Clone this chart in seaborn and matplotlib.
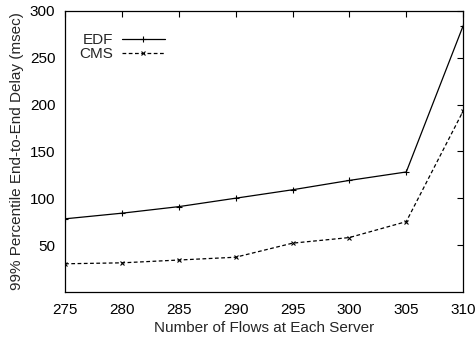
import matplotlib
matplotlib.use("Agg")
import matplotlib.pyplot as plt
import seaborn as sns

flows = [275, 280, 285, 290, 295, 300, 305, 310]
edf_delay = [78, 84, 91, 100, 109, 119, 128, 284]
cms_delay = [30, 31, 34, 37, 52, 58, 75, 193]

sns.set_style("white")
plt.rcParams["font.family"] = ["Liberation Sans", "DejaVu Sans"]

fig = plt.figure(figsize=(4.75, 3.39), dpi=100)
ax = fig.add_axes([0.137, 0.139, 0.838, 0.829])

sns.lineplot(x=flows, y=edf_delay, color="black", linestyle="-", marker="+",
             markersize=4, markeredgewidth=0.8, markeredgecolor="black",
             linewidth=0.9, label="EDF", ax=ax)
sns.lineplot(x=flows, y=cms_delay, color="black", linestyle=(0, (3, 2)), marker="x",
             markersize=3.5, markeredgewidth=0.8, markeredgecolor="black",
             linewidth=0.9, label="CMS", ax=ax)

ax.set_xlim(275, 310)
ax.set_ylim(0, 300)
ax.set_xticks(flows)
ax.set_yticks([50, 100, 150, 200, 250, 300])
ax.tick_params(direction="in", length=4, width=0.8, top=True, right=True,
               labelsize=11, colors="black")
ax.tick_params(axis="x", pad=8)
ax.tick_params(axis="y", pad=7)
for s in ax.spines.values():
    s.set_color("black")
    s.set_linewidth(0.9)

ax.set_xlabel("Number of Flows at Each Server", fontsize=11, labelpad=3)
ax.set_ylabel("99% Percentile End-to-End Delay (msec)", fontsize=11, labelpad=4)

leg = ax.legend(loc="upper left", bbox_to_anchor=(0.0, 0.97), frameon=False,
                markerfirst=False, fontsize=11, handlelength=2.8,
                labelspacing=0.0, handletextpad=0.6)
leg._legend_box.align = "right"
for t in leg.get_texts():
    t.set_ha("right")

fig.savefig("out.png", dpi=100)
